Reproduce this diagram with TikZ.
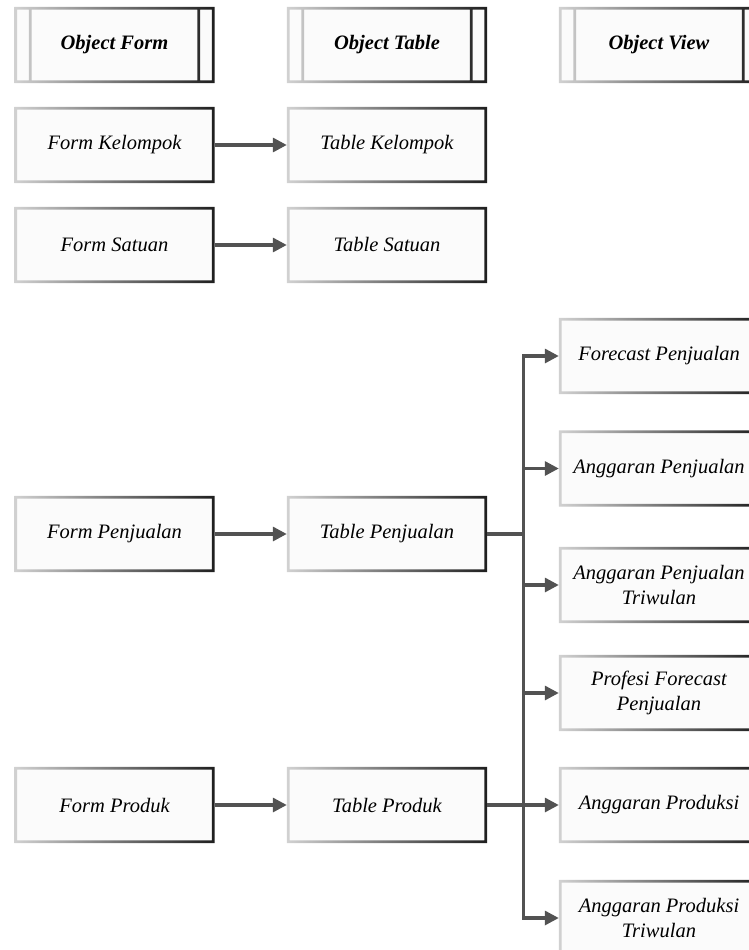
\documentclass[tikz,border=0pt]{standalone}
\usepackage{fontspec}
\setmainfont{Liberation Serif}
\usetikzlibrary{arrows.meta,calc}

\tikzset{
  obj/.style={minimum width=200pt, minimum height=76pt, inner sep=0pt,
    fill=black!1.5, align=center, font=\fontsize{20.5}{24.6}\selectfont\itshape},
  head/.style={obj, font=\fontsize{20.5}{24.6}\selectfont\bfseries\itshape},
  rim/.style={left color=black!18, right color=black!88, even odd rule},
  link/.style={draw=black!68, line width=3.2pt},
  arr/.style={link, -{Triangle[length=14pt,width=14pt]}},
}

\begin{document}
\begin{tikzpicture}

\newcommand\COLL{114.5}
\newcommand\COLM{387}
\newcommand\COLR{659}
\newcommand\RIM{2.8}

  \useasboundingbox (0pt,0pt) rectangle (749pt,-950pt);

  %% headers
  \node[head] (hform) at (\COLL pt,-45pt) {Object Form};
  \node[head] (htab)  at (\COLM pt,-45pt) {Object Table};
  \node[head] (hview) at (\COLR pt,-45pt) {Object View};

  %% forms
  \node[obj] (fkel) at (\COLL pt,-145pt) {Form Kelompok};
  \node[obj] (fsat) at (\COLL pt,-245pt) {Form Satuan};
  \node[obj] (fpen) at (\COLL pt,-534pt) {Form Penjualan};
  \node[obj] (fpro) at (\COLL pt,-805pt) {Form Produk};

  %% tables
  \node[obj] (tkel) at (\COLM pt,-145pt) {Table Kelompok};
  \node[obj] (tsat) at (\COLM pt,-245pt) {Table Satuan};
  \node[obj] (tpen) at (\COLM pt,-534pt) {Table Penjualan};
  \node[obj] (tpro) at (\COLM pt,-805pt) {Table Produk};

  %% views
  \node[obj] (vfor)   at (\COLR pt,-356pt)   {Forecast Penjualan};
  \node[obj] (vapen)  at (\COLR pt,-468.5pt) {Anggaran Penjualan};
  \node[obj] (vaptr)  at (\COLR pt,-585pt)   {Anggaran Penjualan\\Triwulan};
  \node[obj] (vprof)  at (\COLR pt,-693pt)   {Profesi Forecast\\Penjualan};
  \node[obj] (vapro)  at (\COLR pt,-805pt)   {Anggaran Produksi};
  \node[obj] (vaprtr) at (\COLR pt,-918pt)   {Anggaran Produksi\\Triwulan};

  %% rims
  \foreach \n in {fkel,fsat,fpen,fpro,tkel,tsat,tpen,tpro,
                  vfor,vapen,vaptr,vprof,vapro,vaprtr}
    \shade[rim] (\n.south west) rectangle (\n.north east)
      ($(\n.south west)+(\RIM pt,\RIM pt)$) rectangle ($(\n.north east)-(\RIM pt,\RIM pt)$);

  \foreach \n in {hform,htab,hview}
    \shade[rim] (\n.south west) rectangle (\n.north east)
      ($(\n.south west)+(\RIM pt,\RIM pt)$) rectangle ($(\n.north east)-(\RIM pt,\RIM pt)$)
      ($(\n.south west)+(14.5pt,\RIM pt)$) rectangle ($(\n.north west)+(17.3pt,-\RIM pt)$)
      ($(\n.south east)+(-17.3pt,\RIM pt)$) rectangle ($(\n.north east)+(-14.5pt,-\RIM pt)$);

  %% form to table
  \draw[arr] (fkel.east) -- (tkel.west);
  \draw[arr] (fsat.east) -- (tsat.west);
  \draw[arr] (fpen.east) -- (tpen.west);
  \draw[arr] (fpro.east) -- (tpro.west);

  %% table to view
  \coordinate (bus) at ($(tpen.east)+(36pt,0pt)$);
  \draw[link] (tpen.east) -- (bus);
  \draw[link, line cap=rect] (bus |- vfor.west) -- (bus |- vaprtr.west);
  \foreach \n in {vfor,vapen,vaptr,vprof,vaprtr}
    \draw[arr] (bus |- \n.west) -- (\n.west);
  \draw[arr] (tpro.east) -- (vapro.west);

\end{tikzpicture}
\end{document}
